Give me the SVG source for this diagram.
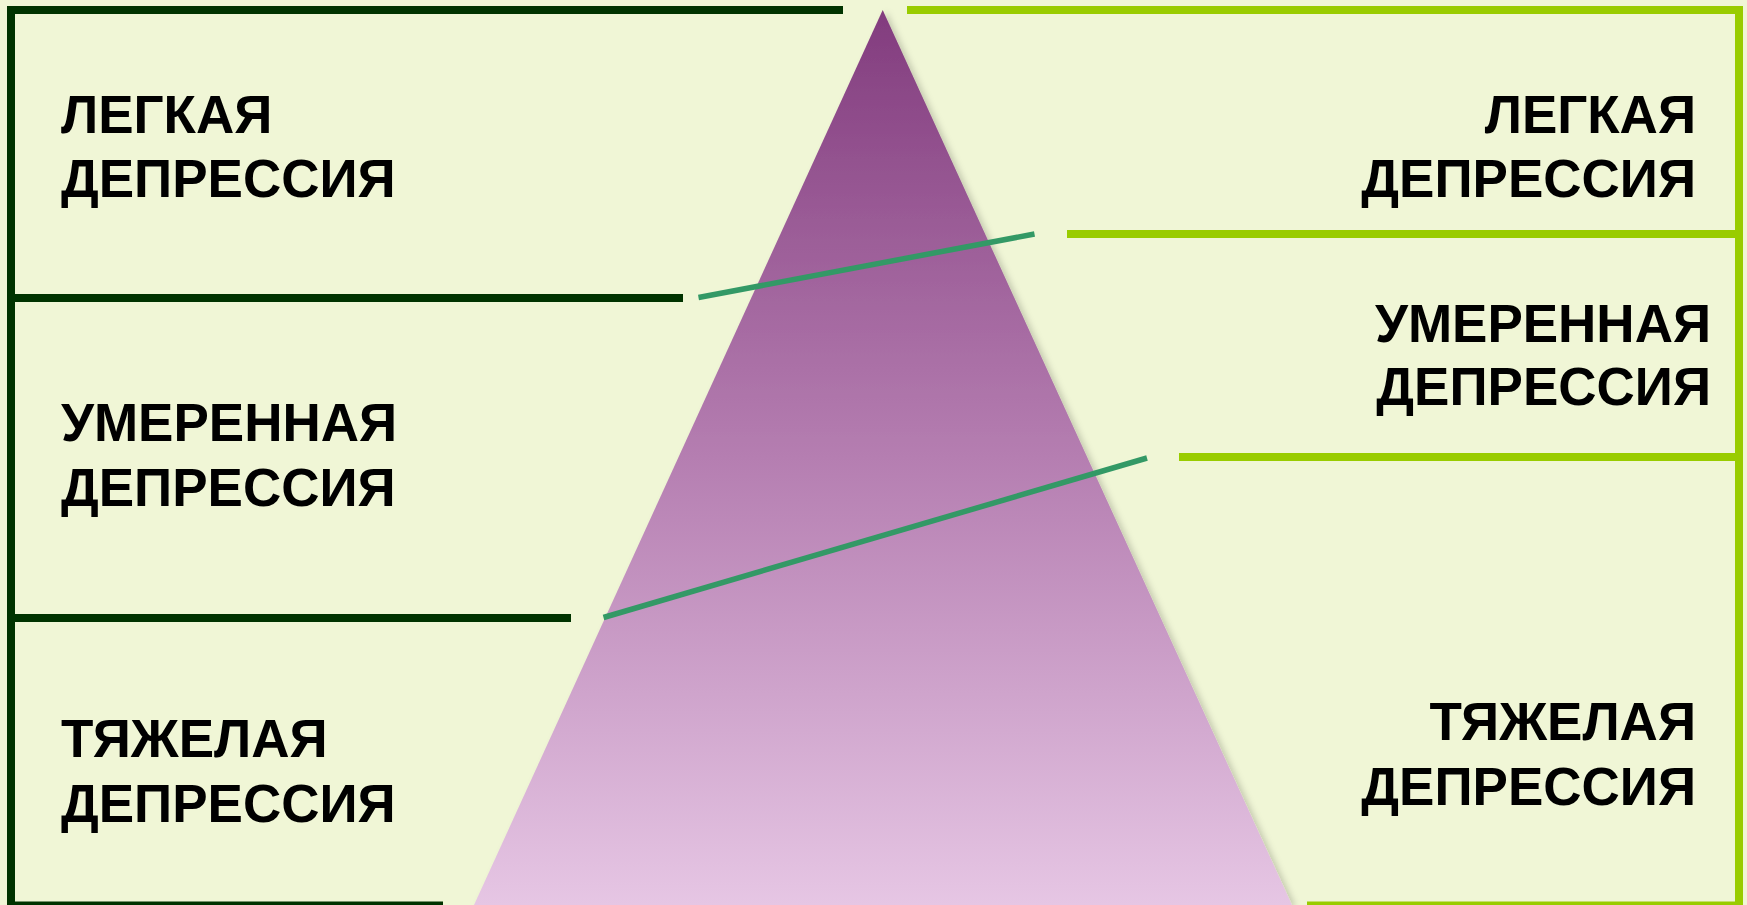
<svg xmlns="http://www.w3.org/2000/svg" width="1747" height="905" viewBox="0 0 1747 905">
  <defs>
    <linearGradient id="pyr" x1="0" y1="10" x2="0" y2="905" gradientUnits="userSpaceOnUse">
      <stop offset="0" stop-color="#823C7E"/>
      <stop offset="0.5" stop-color="#B57EB1"/>
      <stop offset="1" stop-color="#E6C6E4"/>
    </linearGradient>
    <filter id="shadow" x="-10%" y="-5%" width="120%" height="110%">
      <feGaussianBlur in="SourceAlpha" stdDeviation="3"/>
      <feOffset dx="4" dy="2" result="b"/>
      <feFlood flood-color="#000" flood-opacity="0.18"/>
      <feComposite in2="b" operator="in"/>
      <feMerge><feMergeNode/><feMergeNode in="SourceGraphic"/></feMerge>
    </filter>
  </defs>
  <style>
    .dark { stroke: #003300; stroke-width: 8; fill: none; }
    .lite { stroke: #99CC00; stroke-width: 8; fill: none; }
    .diag { stroke: #339966; stroke-width: 5.5; fill: none; }
    .lbl { font-family: "Liberation Sans", Arial, sans-serif; font-weight: bold; font-size: 53px; fill: #000; }
    .r { text-anchor: end; }
  </style>
  <rect width="1747" height="905" fill="#F0F6D6"/>

  <g id="pyramid">
    <polygon points="882.7,10 474,905 1292,905" fill="url(#pyr)" filter="url(#shadow)"/>
  </g>

  <g id="frames">
    <polyline class="dark" points="843,10 11,10 11,910"/>
    <line class="dark" x1="11" y1="298" x2="683" y2="298"/>
    <line class="dark" x1="11" y1="618" x2="571" y2="618"/>
    <line class="dark" x1="11" y1="905.5" x2="443" y2="905.5"/>
    <polyline class="lite" points="907,10 1739,10 1739,910"/>
    <line class="lite" x1="1067" y1="234" x2="1739" y2="234"/>
    <line class="lite" x1="1179" y1="457" x2="1739" y2="457"/>
    <line class="lite" x1="1307" y1="905.5" x2="1739" y2="905.5"/>
  </g>

  <g id="connectors">
    <line class="diag" x1="698.5" y1="297.5" x2="1034.5" y2="234"/>
    <line class="diag" x1="603.5" y1="617.5" x2="1147" y2="458"/>
  </g>

  <g id="left-mild"><text class="lbl" x="61" y="133">ЛЕГКАЯ</text><text class="lbl" x="61" y="197">ДЕПРЕССИЯ</text></g>
  <g id="left-moderate"><text class="lbl" x="61" y="441">УМЕРЕННАЯ</text><text class="lbl" x="61" y="506">ДЕПРЕССИЯ</text></g>
  <g id="left-severe"><text class="lbl" x="61" y="757">ТЯЖЕЛАЯ</text><text class="lbl" x="61" y="822">ДЕПРЕССИЯ</text></g>

  <g id="right-mild"><text class="lbl r" x="1696" y="133">ЛЕГКАЯ</text><text class="lbl r" x="1696" y="197">ДЕПРЕССИЯ</text></g>
  <g id="right-moderate"><text class="lbl r" x="1711" y="342">УМЕРЕННАЯ</text><text class="lbl r" x="1711" y="405">ДЕПРЕССИЯ</text></g>
  <g id="right-severe"><text class="lbl r" x="1696" y="740">ТЯЖЕЛАЯ</text><text class="lbl r" x="1696" y="805">ДЕПРЕССИЯ</text></g>
</svg>
